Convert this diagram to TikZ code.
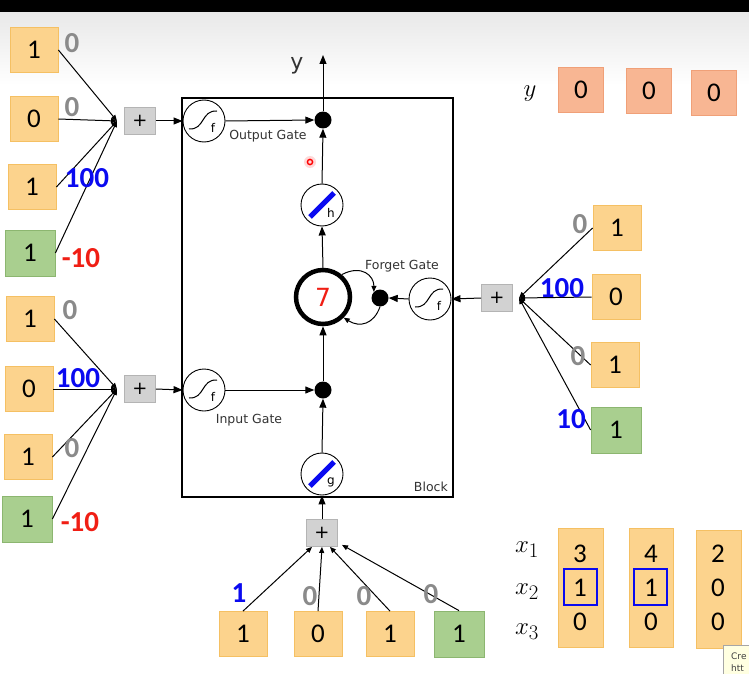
\documentclass[tikz,border=0pt]{standalone}
\usepackage{fontspec}
\setmainfont{DejaVu Sans}
\newfontfamily\carl{Carlito}
\usetikzlibrary{arrows.meta}
\definecolor{orF}{HTML}{FCD38D}
\definecolor{orD}{HTML}{F5C063}
\definecolor{grF}{HTML}{A9CF8F}
\definecolor{grD}{HTML}{8CB670}
\definecolor{saF}{HTML}{F8B693}
\definecolor{saD}{HTML}{F0A078}
\definecolor{plF}{HTML}{D2D2D2}
\definecolor{plD}{HTML}{B4B4B4}
\definecolor{wgray}{HTML}{8A8A8A}
\definecolor{wblue}{HTML}{0A0AF0}
\definecolor{wred}{HTML}{F01E14}
\definecolor{tipF}{HTML}{FFFFE1}
\tikzset{
  obox/.style={draw=orD,fill=orF,line width=0.8pt,minimum width=48pt,minimum height=45pt,inner sep=0pt,font=\carl\fontsize{27}{27}\selectfont},
  gbox/.style={obox,draw=grD,fill=grF,minimum width=50pt,minimum height=46pt},
  sbox/.style={obox,draw=saD,fill=saF,minimum width=45pt,minimum height=45pt},
  plusbox/.style={draw=plD,fill=plF,line width=0.8pt,minimum width=31pt,minimum height=27pt,inner sep=0pt,font=\fontsize{18}{18}\selectfont},
  wlab/.style={inner sep=0pt,font=\carl\bfseries\fontsize{29}{29}\selectfont},
  sig/.style={circle,draw,line width=0.9pt,minimum size=42pt,inner sep=0pt,fill=white},
  mdot/.style={circle,fill=black,minimum size=17pt,inner sep=0pt},
  cellc/.style={circle,draw,line width=4.5pt,minimum size=54pt,inner sep=0pt},
  gate/.style={inner sep=0pt,font=\fontsize{12.5}{13}\selectfont,text=black!80},
  arr/.style={line width=1pt,-{Triangle[length=9pt,width=7pt]}},
  sarr/.style={line width=1pt,-{Triangle[length=6pt,width=5pt]}},
  wire/.style={line width=1pt},
  xlab/.style={inner sep=0pt,font=\fontsize{30}{30}\selectfont}
}
\newcommand{\sigS}[1]{%
  \draw[line width=1pt] ([shift={(-15,8)}]#1.center) .. controls ([shift={(1,9)}]#1.center) and ([shift={(-3,-11)}]#1.center) .. ([shift={(13,-10)}]#1.center);
  \node[inner sep=0pt,font=\fontsize{12}{12}\selectfont] at ([shift={(9,7)}]#1.center) {f};}
\newcommand{\barS}[2]{%
  \draw[wblue,line width=5pt] ([shift={(-12,12)}]#1.center) -- ([shift={(12,-12)}]#1.center);
  \node[inner sep=0pt,font=\fontsize{12}{12}\selectfont] at ([shift={(9,8)}]#1.center) {#2};}
\begin{document}
\begin{tikzpicture}[x=1pt,y=-1pt]
\useasboundingbox (0,0) rectangle (749,674);
\fill[white] (0,0) rectangle (749,674);
\shade[top color=black!9,bottom color=white] (0,12) rectangle (749,85);
\fill[black] (0,0) rectangle (749,12);
% block
\draw[line width=1.3pt] (182,98) rectangle (453,497);
\node[gate,anchor=south east] at (448,492) {Block};
% top-left group
\node[obox] (a1) at (34,50) {1};
\node[obox] (a2) at (34,119) {0};
\node[obox] (a3) at (32,187) {1};
\node[gbox] (a4) at (30,253) {1};
\coordinate (ac) at (117,121);
\foreach \b in {a1,a2,a3,a4} \draw[sarr] (\b.east) -- (ac);
\node[wlab,text=wgray] at (72,43) {0};
\node[wlab,text=wgray] at (72,107) {0};
\node[wlab,text=wblue] at (87,178) {100};
\node[wlab,text=wred] at (81,258) {-10};
\node[plusbox] (pa) at (140,121) {+};
% bottom-left group
\node[obox] (b1) at (30,319) {1};
\node[obox] (b2) at (29,389) {0};
\node[obox] (b3) at (28,457) {1};
\node[gbox] (b4) at (27,519) {1};
\coordinate (bc) at (117,389);
\foreach \b in {b1,b2,b3,b4} \draw[sarr] (\b.east) -- (bc);
\node[wlab,text=wgray] at (70,310) {0};
\node[wlab,text=wblue] at (78,378) {100};
\node[wlab,text=wgray] at (72,448) {0};
\node[wlab,text=wred] at (80,522) {-10};
\node[plusbox] (pb) at (140,389) {+};
% right group
\node[obox] (c1) at (617,228) {1};
\node[obox] (c2) at (616,297) {0};
\node[obox] (c3) at (615,365) {1};
\node[gbox] (c4) at (616,430) {1};
\coordinate (cc) at (519,298);
\foreach \b in {c1,c2,c3,c4} \draw[sarr] (\b.west) -- (cc);
\node[wlab,text=wgray] at (580,224) {0};
\node[wlab,text=wblue] at (562,288) {100};
\node[wlab,text=wgray] at (578,356) {0};
\node[wlab,text=wblue] at (571,419) {10};
\node[plusbox] (pc) at (497,298) {+};
% bottom group
\node[obox] (d1) at (243,634) {1};
\node[obox] (d2) at (318,634) {0};
\node[obox] (d3) at (390,634) {1};
\node[gbox] (d4) at (459,634) {1};
\node[plusbox] (pd) at (322,533) {+};
\draw[sarr] (d1.north) -- ([xshift=-10pt]pd.south);
\draw[sarr] (d2.north) -- (pd.south);
\draw[sarr] (d3.north) -- ([xshift=8pt]pd.south);
\draw[sarr] (d4.north) -- ([xshift=20pt,yshift=2pt]pd.south);
\node[wlab,text=wblue] at (239,593) {1};
\node[wlab,text=wgray] at (310,596) {0};
\node[wlab,text=wgray] at (364,596) {0};
\node[wlab,text=wgray] at (431,594) {0};
% inner nodes
\node[sig] (og) at (204,121) {}; \sigS{og}
\node[gate] at (268,136) {Output Gate};
\node[sig] (ig) at (204,390) {}; \sigS{ig}
\node[gate] at (249,420) {Input Gate};
\node[sig] (fg) at (430,299) {}; \sigS{fg}
\node[gate] at (402,266) {Forget Gate};
\node[mdot] (od) at (323,120) {};
\node[mdot] (id) at (323,390) {};
\node[mdot] (fd) at (380,298) {};
\node[sig] (hn) at (322,205) {}; \barS{hn}{h}
\node[sig] (gn) at (322,474) {}; \barS{gn}{g}
\node[cellc] (cell) at (323,297) {};
\node[inner sep=0pt,text=wred,font=\fontsize{25}{25}\selectfont] at (323,297) {7};
\coordinate (ytop) at (323,55);
\node[inner sep=0pt,font=\fontsize{22}{22}\selectfont,text=black!80] at (297,66) {y};
% connectors
\draw[arr] (pa.east) -- (og.west);
\draw[arr] (og.east) -- (od.west);
\draw[arr] (hn.north) -- (od.south);
\draw[arr] (od.north) -- (ytop);
\draw[arr] (cell.north) -- (hn.south);
\draw[arr] (pb.east) -- (ig.west);
\draw[arr] (ig.east) -- (id.west);
\draw[arr] (gn.north) -- (id.south);
\draw[arr] (id.north) -- (cell.south);
\draw[arr] (pd.north) -- (gn.south);
\draw[arr] (pc.west) -- (fg.east);
\draw[arr] (fg.west) -- (fd.east);
\draw[sarr] (cell.50) .. controls (362,264) and (374,276) .. (fd.north west);
\draw[sarr] (fd.south) .. controls (374,324) and (360,328) .. (cell.-45);
% x table
\fill[orF] (558,528) rectangle (603,647);
\fill[orF] (629,528) rectangle (673,647);
\fill[orF] (696,530) rectangle (741,648);
\draw[orD,line width=0.8pt] (558,528) rectangle (603,647) (629,528) rectangle (673,647) (696,530) rectangle (741,648);
\node[xlab] at (527,550) {$x_1$};
\node[xlab] at (527,592) {$x_2$};
\node[xlab] at (527,632) {$x_3$};
\foreach \x/\a/\b/\c in {580/3/1/0,651/4/1/0,718/2/0/0}{
  \node[obox,draw=none,fill=none] at (\x,554) {\a};
  \node[obox,draw=none,fill=none] at (\x,588) {\b};
  \node[obox,draw=none,fill=none] at (\x,622) {\c};
}
\draw[wblue,line width=2.3pt] (564,569) rectangle (597,605);
\draw[wblue,line width=2.3pt] (634,569) rectangle (667,605);
% y row
\node[xlab] at (530,94) {$y$};
\node[sbox] at (581,90) {0};
\node[sbox] at (649,91) {0};
\node[sbox] at (714,93) {0};
% pointer and tooltip
\fill[red!25,opacity=0.6] (310,162) circle (6);
\draw[red,line width=1.4pt] (310,162) circle (2.6);
\draw[black!35,fill=tipF] (723,645) rectangle (760,680);
\node[anchor=west,inner sep=0pt,font=\fontsize{9}{9}\selectfont,text=black!75] at (731,656) {Cre};
\node[anchor=west,inner sep=0pt,font=\fontsize{9}{9}\selectfont,text=black!75] at (731,668) {htt};
\end{tikzpicture}
\end{document}
